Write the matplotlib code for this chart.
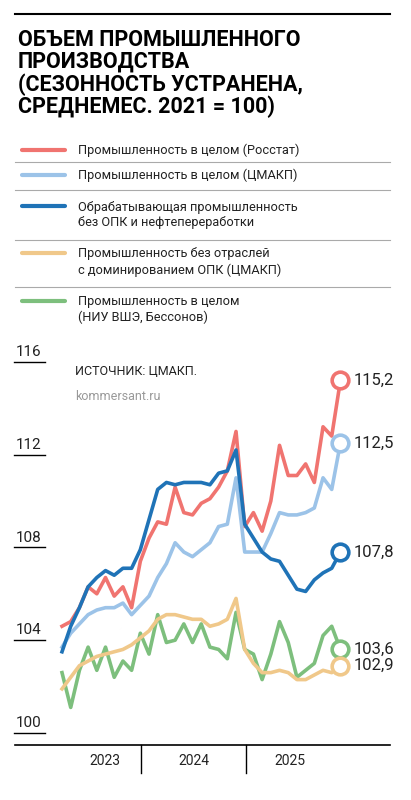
import matplotlib
matplotlib.use("Agg")
import matplotlib.pyplot as plt
from matplotlib.lines import Line2D

rosstat = [104.6,104.8,105.4,106.3,106.0,106.7,105.9,106.3,105.4,107.4,108.4,109.1,109.0,110.6,109.5,109.4,109.9,110.1,110.6,111.3,113.0,108.9,109.5,108.7,110.0,112.4,111.1,111.1,111.6,110.8,113.2,112.8,115.2]
cmakp = [103.7,104.3,104.7,105.1,105.3,105.4,105.4,105.6,105.1,105.5,105.9,106.7,107.3,108.2,107.8,107.6,107.9,108.2,108.9,109.0,111.0,107.8,107.8,107.8,108.6,109.5,109.4,109.4,109.5,109.7,111.0,110.5,112.5]
manuf = [103.5,104.6,105.4,106.3,106.7,107.0,106.8,107.1,107.1,107.9,109.2,110.5,110.8,110.7,110.8,110.8,110.8,110.7,111.2,111.3,112.2,109.0,108.4,107.8,107.5,107.4,106.8,106.2,106.1,106.6,106.9,107.1,107.8]
no_opk = [101.9,102.4,102.9,103.1,103.3,103.4,103.5,103.6,103.8,104.1,104.4,104.9,105.1,105.1,105.0,104.9,104.9,104.6,104.7,104.9,105.8,103.6,103.0,102.6,102.6,102.7,102.6,102.3,102.3,102.5,102.7,102.6,102.9]
hse = [102.6,101.1,102.7,103.7,102.7,103.7,102.4,103.1,102.7,104.3,103.4,105.1,103.9,104.0,104.7,103.9,104.7,103.7,103.6,103.2,105.2,103.6,103.4,102.3,103.4,104.8,103.9,102.4,102.7,103.0,104.2,104.6,103.6]
end_labels = ["115,2","112,5","107,8","103,6","102,9"]
years = ["2023","2024","2025"]
yticks = [100,104,108,112,116]
legend_labels = ["Промышленность в целом (Росстат)","Промышленность в целом (ЦМАКП)",
                 "Обрабатывающая промышленность\nбез ОПК и нефтепереработки",
                 "Промышленность без отраслей\nс доминированием ОПК (ЦМАКП)",
                 "Промышленность в целом\n(НИУ ВШЭ, Бессонов)"]
colors = ["#f07470","#9cc3e8","#1f73b7","#f0c88a","#7dbf7d"]

W,H = 411,800
fig = plt.figure(figsize=(W/100,H/100), dpi=100)
plt.rcParams['font.family'] = ['Roboto','DejaVu Sans']

def fx(px): return px/W
def fy(py): return 1-py/H

fig.add_artist(Line2D([fx(15),fx(390)],[fy(14),fy(14)],color='black',lw=1.5))
fig.text(fx(18),fy(29),"ОБЪЕМ ПРОМЫШЛЕННОГО\nПРОИЗВОДСТВА\n(СЕЗОННОСТЬ УСТРАНЕНА,\nСРЕДНЕМЕС. 2021 = 100)",
         fontsize=15.5,fontweight='bold',va='top',ha='left',linespacing=1.0)
ys = [150,175,215,262,310]
seps = [162,190,240,287,332]
for lab,c,y in zip(legend_labels,colors,ys):
    n = lab.count("\n")
    yc = y - n*9
    fig.add_artist(Line2D([fx(22),fx(65)],[fy(yc),fy(yc)],color=c,lw=3,solid_capstyle='round'))
    fig.text(fx(78),fy(y),lab,fontsize=9.2,va='center',ha='left',linespacing=1.25,color='#222')
for s in seps[:-1]:
    fig.add_artist(Line2D([fx(15),fx(390)],[fy(s),fy(s)],color='#aaa',lw=0.8))

ax = fig.add_axes([fx(40),fy(745),fx(310),(745-360)/H])
ax.set_xlim(-2.53,33.1)
ax.set_ylim(99.48,116.08)
ax.axis('off')
x = list(range(len(rosstat)))
series = [rosstat,cmakp,manuf,hse,no_opk]
scol = [colors[0],colors[1],colors[2],colors[4],colors[3]]
for s,c in zip(series,scol):
    ax.plot(x,s,color=c,lw=2.6,solid_joinstyle='round')
for s,c,l in zip(series,scol,end_labels):
    ax.plot(x[-1],s[-1],'o',ms=12,mfc='white',mec=c,mew=2.6,zorder=5,clip_on=False)
    ax.text(x[-1]+1.5,s[-1],l,fontsize=12,va='center',ha='left',color='#222')
for v in yticks:
    ax.plot([-5.5,-2],[v,v],color='black',lw=1,clip_on=False)
    ax.text(-5.3,v+0.12,str(v),fontsize=11,va='bottom',ha='left',color='#222')
ax.text(1.5,115.6,"ИСТОЧНИК: ЦМАКП.",fontsize=9,va='center',color='#222')
ax.text(1.5,114.5,"kommersant.ru",fontsize=9,va='center',color='#999')

fig.add_artist(Line2D([fx(15),fx(390)],[fy(745),fy(745)],color='black',lw=1.2))
for px in [141,246]:
    fig.add_artist(Line2D([fx(px),fx(px)],[fy(745),fy(773)],color='black',lw=1))
for yr,px in zip(years,[105,194,290]):
    fig.text(fx(px),fy(761),yr,fontsize=10,ha='center',va='center',color='#222')

fig.savefig("out.png",dpi=100)
